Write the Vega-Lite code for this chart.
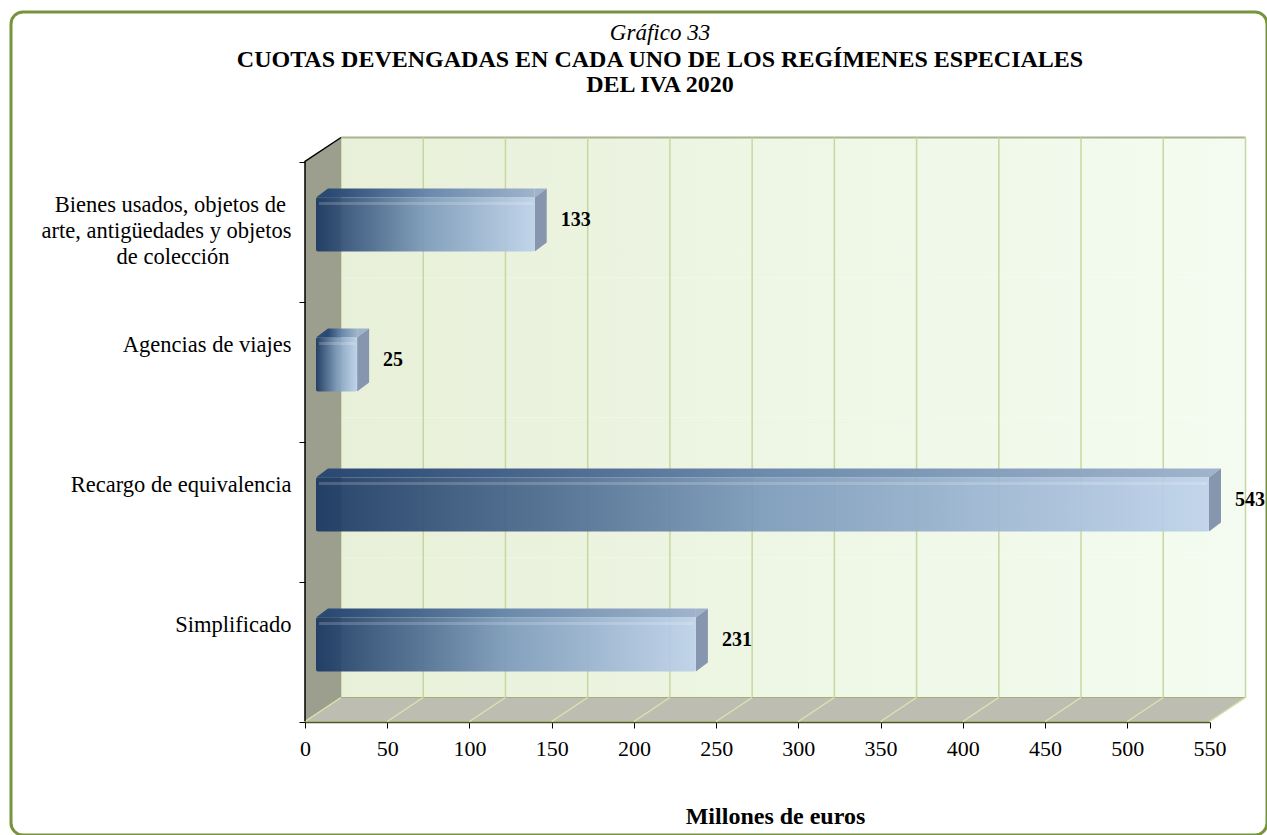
{
  "$schema": "https://vega.github.io/schema/vega-lite/v6.json",
  "width": 1256,
  "height": 823,
  "autosize": {"type": "none"},
  "padding": {"left": 11, "top": 12, "right": 0, "bottom": 0},
  "background": "white",
  "config": {
    "view": {"stroke": "#77933c", "strokeWidth": 3, "cornerRadius": 12, "fill": "white"},
    "font": "Liberation Serif"
  },
  "title": {
    "text": "Gráfico 33",
    "subtitle": ["CUOTAS DEVENGADAS EN CADA UNO DE LOS REGÍMENES ESPECIALES", "DEL IVA 2020"],
    "anchor": "middle",
    "frame": "group",
    "orient": "top",
    "offset": -85,
    "dx": 21,
    "font": "Liberation Serif",
    "fontSize": 23,
    "fontStyle": "italic",
    "fontWeight": "normal",
    "color": "black",
    "subtitleFont": "Liberation Serif",
    "subtitleFontSize": 24,
    "subtitleFontWeight": "bold",
    "subtitleColor": "black",
    "subtitlePadding": 3,
    "subtitleLineHeight": 25
  },
  "datasets": {
    "regimenes": [
      {"regimen": "Bienes usados, objetos de arte, antigüedades y objetos de colección", "cuota": 133},
      {"regimen": "Agencias de viajes", "cuota": 25},
      {"regimen": "Recargo de equivalencia", "cuota": 543},
      {"regimen": "Simplificado", "cuota": 231}
    ],
    "marcas": [
      {"t": 0}, {"t": 50}, {"t": 100}, {"t": 150}, {"t": 200}, {"t": 250},
      {"t": 300}, {"t": 350}, {"t": 400}, {"t": 450}, {"t": 500}, {"t": 550}
    ],
    "unico": [{}]
  },
  "layer": [
    {
      "data": {"name": "regimenes"},
      "mark": {
        "type": "rect", "xOffset": 36, "x2Offset": 36, "strokeWidth": 0,
        "fill": {"gradient": "linear", "x1": 0, "y1": 0, "x2": 1, "y2": 0,
          "stops": [{"offset": 0, "color": "#e8f0d9"}, {"offset": 1, "color": "#f4fcf1"}]}
      },
      "encoding": {
        "x": {"datum": 0, "type": "quantitative"},
        "x2": {"datum": 550},
        "y": {"field": "regimen", "type": "nominal", "sort": null}
      }
    },
    {
      "data": {"name": "unico"},
      "mark": {"type": "rule", "xOffset": 36, "x2Offset": 36, "color": "#a7b48f", "strokeWidth": 2},
      "encoding": {
        "x": {"datum": 0, "type": "quantitative"},
        "x2": {"datum": 550},
        "y": {"datum": "Bienes usados, objetos de arte, antigüedades y objetos de colección", "type": "nominal", "bandPosition": 0}
      }
    },
    {
      "data": {"name": "marcas"},
      "mark": {"type": "rule", "xOffset": 36, "color": "#c5d89e", "strokeWidth": 1.5},
      "encoding": {
        "x": {"field": "t", "type": "quantitative"},
        "y": {"datum": "Bienes usados, objetos de arte, antigüedades y objetos de colección", "type": "nominal", "bandPosition": 0},
        "y2": {"datum": "Simplificado", "bandPosition": 1}
      }
    },
    {
      "data": {"name": "unico"},
      "mark": {"type": "point", "shape": "M0,24L36,0L36,560L0,584Z", "size": 4, "filled": true, "fill": "#9c9e8e", "opacity": 1, "strokeWidth": 0},
      "encoding": {
        "x": {"datum": 0, "type": "quantitative"},
        "y": {"datum": "Bienes usados, objetos de arte, antigüedades y objetos de colección", "type": "nominal", "bandPosition": 0}
      }
    },
    {
      "data": {"name": "unico"},
      "mark": {"type": "point", "shape": "M0,24L36,0L940.5,0L904.5,24Z", "size": 4, "filled": true, "fill": "#bdbdb1", "stroke": "#a3b077", "strokeWidth": 1, "opacity": 1},
      "encoding": {
        "x": {"datum": 0, "type": "quantitative"},
        "y": {"datum": "Simplificado", "type": "nominal", "bandPosition": 1}
      }
    },
    {
      "data": {"name": "marcas"},
      "mark": {"type": "point", "shape": "M0,24L36,0", "size": 4, "filled": false, "stroke": "#d9e6b0", "strokeWidth": 1.5, "opacity": 1},
      "encoding": {
        "x": {"field": "t", "type": "quantitative"},
        "y": {"datum": "Simplificado", "type": "nominal", "bandPosition": 1}
      }
    },
    {
      "data": {"name": "unico"},
      "mark": {"type": "point", "shape": "M0,584L0,24L36,0", "size": 4, "filled": false, "stroke": "black", "strokeWidth": 1.5, "opacity": 1},
      "encoding": {
        "x": {"datum": 0, "type": "quantitative"},
        "y": {"datum": "Bienes usados, objetos de arte, antigüedades y objetos de colección", "type": "nominal", "bandPosition": 0}
      }
    },
    {
      "data": {"name": "regimenes"},
      "mark": {
        "type": "bar", "xOffset": 11, "x2Offset": 23, "height": 9, "yOffset": -14.5,
        "fill": {"gradient": "linear", "x1": 0, "y1": 0, "x2": 1, "y2": 0,
          "stops": [{"offset": 0, "color": "#2a4973"}, {"offset": 0.5, "color": "#6d8bad"}, {"offset": 1, "color": "#9fb3cc"}]}
      },
      "encoding": {
        "x": {"field": "cuota", "type": "quantitative", "stack": null},
        "x2": {"datum": 0},
        "y": {"field": "regimen", "type": "nominal", "sort": null}
      }
    },
    {
      "data": {"name": "regimenes"},
      "mark": {"type": "point", "shape": "M11,-10L23,-19L23,-10Z", "size": 4, "filled": true, "fill": "#2a4973", "opacity": 1, "strokeWidth": 0},
      "encoding": {
        "x": {"datum": 0, "type": "quantitative"},
        "y": {"field": "regimen", "type": "nominal", "sort": null}
      }
    },
    {
      "data": {"name": "regimenes"},
      "mark": {"type": "point", "shape": "M11,-10L23,-19L11,-19Z", "size": 4, "filled": true, "fill": "#9fb3cc", "opacity": 1, "strokeWidth": 0},
      "encoding": {
        "x": {"field": "cuota", "type": "quantitative"},
        "y": {"field": "regimen", "type": "nominal", "sort": null}
      }
    },
    {
      "data": {"name": "regimenes"},
      "mark": {"type": "point", "shape": "M11,-10L23,-19L23,35L11,44Z", "size": 4, "filled": true, "fill": "#8696ae", "opacity": 1, "strokeWidth": 0},
      "encoding": {
        "x": {"field": "cuota", "type": "quantitative"},
        "y": {"field": "regimen", "type": "nominal", "sort": null}
      }
    },
    {
      "data": {"name": "regimenes"},
      "mark": {
        "type": "bar", "xOffset": 11, "x2Offset": 11, "height": 54, "yOffset": 17, "cornerRadius": 2, "opacity": 0.93,
        "fill": {"gradient": "linear", "x1": 0, "y1": 0, "x2": 1, "y2": 0,
          "stops": [{"offset": 0, "color": "#1b3862"}, {"offset": 0.5, "color": "#7c9aba"}, {"offset": 1, "color": "#bed2ea"}]}
      },
      "encoding": {
        "x": {
          "field": "cuota", "type": "quantitative", "stack": null,
          "scale": {"domain": [0, 550], "range": [294, 1198.5], "nice": false, "zero": true},
          "axis": {
            "orient": "bottom", "offset": -113,
            "values": [0, 50, 100, 150, 200, 250, 300, 350, 400, 450, 500, 550],
            "grid": false,
            "domainColor": "#4b5631", "domainWidth": 1.5,
            "tickColor": "black", "tickSize": 6, "tickWidth": 1,
            "labelFont": "Liberation Serif", "labelFontSize": 22, "labelColor": "black",
            "labelPadding": 10, "labelFlush": false, "labelOverlap": false,
            "title": "Millones de euros",
            "titleFont": "Liberation Serif", "titleFontSize": 24, "titleFontWeight": "bold", "titleColor": "black",
            "titleX": 764, "titleY": 94, "titleBaseline": "middle", "titleAlign": "center"
          }
        },
        "x2": {"datum": 0},
        "y": {
          "field": "regimen", "type": "nominal", "sort": null,
          "scale": {
            "domain": ["Bienes usados, objetos de arte, antigüedades y objetos de colección", "Agencias de viajes", "Recargo de equivalencia", "Simplificado"],
            "range": [125.5, 685.5], "paddingInner": 0, "paddingOuter": 0
          },
          "axis": {
            "orient": "left", "offset": -294, "domain": false,
            "ticks": true, "tickColor": "black", "tickSize": 6, "tickWidth": 1,
            "bandPosition": 1, "tickExtra": true, "tickOffset": 24,
            "labelFont": "Liberation Serif", "labelFontSize": 22.5, "labelColor": "black",
            "labelBaseline": "top", "labelOffset": -38, "labelLineHeight": 26, "labelLimit": 0,
            "labelPadding": 8, "labelAlign": "right",
            "labelExpr": "indexof(datum.label + '', 'Bienes') == 0 ? ['Bienes usados, objetos de\u00a0\u200b', 'arte, antigüedades y objetos', 'de colección\u00a0\u00a0\u00a0\u00a0\u00a0\u00a0\u00a0\u00a0\u00a0\u00a0\u00a0\u200b'] : datum.label",
            "title": null
          }
        }
      }
    },
    {
      "data": {"name": "regimenes"},
      "mark": {"type": "bar", "xOffset": 9, "x2Offset": 14, "height": 3, "yOffset": -4, "fill": "white", "opacity": 0.18},
      "encoding": {
        "x": {"field": "cuota", "type": "quantitative", "stack": null},
        "x2": {"datum": 0},
        "y": {"field": "regimen", "type": "nominal", "sort": null}
      }
    },
    {
      "data": {"name": "regimenes"},
      "mark": {"type": "text", "align": "left", "baseline": "middle", "dx": 37, "dy": 12, "font": "Liberation Serif", "fontSize": 20, "fontWeight": "bold", "color": "black"},
      "encoding": {
        "x": {"field": "cuota", "type": "quantitative"},
        "y": {"field": "regimen", "type": "nominal", "sort": null},
        "text": {"field": "cuota", "type": "quantitative"}
      }
    }
  ]
}
